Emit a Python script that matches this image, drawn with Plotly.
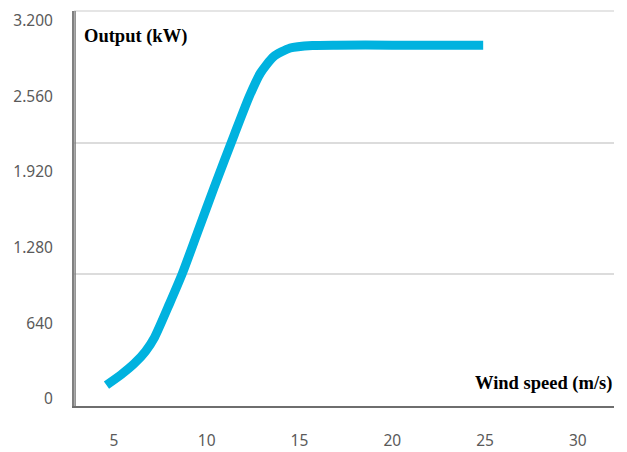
import plotly.graph_objects as go

# Data
wind_speed = [4.6, 5.4, 6.1, 6.7, 7.2, 8.0, 8.7, 9.5, 10.4, 11.5, 12.3, 12.9, 13.6, 14.5, 15.7, 17.0, 20.0, 24.9]
output_kw = [115, 205, 297, 400, 522, 805, 1065, 1405, 1788, 2240, 2560, 2757, 2895, 2969, 2990, 2993, 2993, 2993]

y_ticks = [0, 640, 1280, 1920, 2560, 3200]
x_ticks = [5, 10, 15, 20, 25, 30]
grid_levels = [1, 2]

fig = go.Figure()
fig.add_trace(go.Scatter(
    x=wind_speed, y=output_kw, mode="lines",
    line=dict(color="#00B2DF", width=9, shape="spline", smoothing=0.6),
    hoverinfo="skip", showlegend=False,
))
# invisible trace to drive the grid axis
fig.add_trace(go.Scatter(x=[None], y=[None], yaxis="y2", showlegend=False))

tick_font = dict(family="Noto Sans", size=15.5, color="#5a5a5a")

fig.update_layout(
    template="none",
    width=627, height=452,
    margin=dict(l=74, r=13, t=11, b=46),
    paper_bgcolor="white", plot_bgcolor="white",
    separators=",.",
    xaxis=dict(
        range=[2.85, 31.95], tickvals=x_ticks, showgrid=False, zeroline=False,
        showline=True, linecolor="#6e6e6e", linewidth=2, automargin=False,
        tickfont=tick_font, ticks="", ticklabelstandoff=19,
    ),
    yaxis=dict(
        range=[-62, 3282], tickvals=y_ticks, tickformat=",d", showgrid=False,
        zeroline=False, showline=True, linecolor="#808080", linewidth=2,
        automargin=False, tickfont=tick_font, ticks="", ticklabelstandoff=16,
    ),
    yaxis2=dict(
        overlaying="y", range=[0, 3], tickvals=grid_levels, showticklabels=False,
        showgrid=True, gridcolor="#dcdcdc", gridwidth=1.5, zeroline=False,
        showline=False, ticks="", automargin=False,
    ),
    shapes=[
        dict(type="line", xref="paper", yref="paper", x0=0, x1=1, y0=1, y1=1,
             line=dict(color="#dcdcdc", width=1.5), layer="below"),
        dict(type="line", xref="paper", yref="paper", x0=0.002, x1=0.002, y0=0, y1=1,
             line=dict(color="#808080", width=1.5), layer="above"),
    ],
    annotations=[
        dict(text="<b>Output (kW)</b>", xref="paper", yref="paper", x=0.015, y=0.935,
             xanchor="left", yanchor="middle", showarrow=False,
             font=dict(family="Liberation Serif", size=18.5, color="black")),
        dict(text="<b>Wind speed (m/s)</b>", xref="paper", yref="paper", x=1.0, y=0.058,
             xanchor="right", yanchor="middle", showarrow=False,
             font=dict(family="Liberation Serif", size=18.5, color="black")),
    ],
)

fig.write_html(
    "out.html",
    config={"displayModeBar": False},
    post_script="document.body.style.margin='0';document.body.style.overflow='hidden';",
)
